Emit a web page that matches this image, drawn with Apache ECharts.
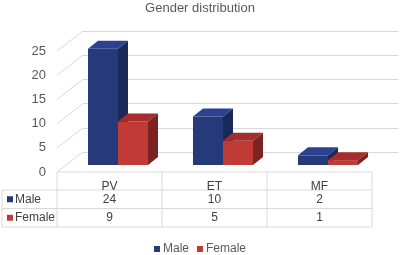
<!DOCTYPE html>
<html>
<head>
<meta charset="utf-8">
<script src="https://cdn.jsdelivr.net/npm/echarts@6/dist/echarts.min.js"></script>
<style>
  html, body { margin: 0; padding: 0; background: #fff; }
  #chart { width: 400px; height: 255px; }
</style>
</head>
<body>
<div id="chart"></div>
<script>
const categories = ['PV', 'ET', 'MF'];
const seriesNames = ['Male', 'Female'];
const maleValues = [24, 10, 2];
const femaleValues = [9, 5, 1];
const yTicks = [0, 5, 10, 15, 20, 25];

// colours: front, top, side
const faceColors = {
  Male: ['#263A7A', '#2C4190', '#1A285A'],
  Female: ['#C03A36', '#A52D2B', '#7C2220']
};

const FONT = 'Liberation Sans, Arial, sans-serif';
const TXT = '#595959';
const LINE = '#D9D9D9';

// plot geometry (front plane / back wall / bar plane)
const PLOT_LEFT = 57, PLOT_W = 315, PLOT_H = 121, FRONT_BASE = 172;
const WALL_DX = 26, WALL_DY = -20;
const BAR_SHIFT_X = 8.5, BAR_SHIFT_Y = -7;
const BAR_DX = 10, BAR_DY = -8;
const COL_W = PLOT_W / categories.length;

const chart = echarts.init(document.getElementById('chart'));

function barRender(seriesIdx) {
  const c = faceColors[seriesNames[seriesIdx]];
  return function (params, api) {
    const top = api.coord([api.value(0), api.value(1)]);
    const base = api.coord([api.value(0), 0]);
    const band = api.size([1, 0])[0];
    const w = band * 2 / 7;
    const x0 = top[0] - w + seriesIdx * w;
    const ty = top[1], by = base[1];
    return {
      type: 'group',
      children: [
        { type: 'rect', shape: { x: x0, y: ty, width: w, height: by - ty }, style: { fill: c[0] } },
        { type: 'polygon', shape: { points: [[x0, ty], [x0 + w, ty], [x0 + w + BAR_DX, ty + BAR_DY], [x0 + BAR_DX, ty + BAR_DY]] }, style: { fill: c[1] } },
        { type: 'polygon', shape: { points: [[x0 + w, ty], [x0 + w, by], [x0 + w + BAR_DX, by + BAR_DY], [x0 + w + BAR_DX, ty + BAR_DY]] }, style: { fill: c[2] } }
      ]
    };
  };
}

// data table
const ROW_H = 18.5;
const tableEls = [];
const tTop = FRONT_BASE, r1 = tTop + 18, r2 = r1 + ROW_H, r3 = r2 + ROW_H;
const right = PLOT_LEFT + PLOT_W;
[[PLOT_LEFT, tTop], [2, r1], [2, r2], [2, r3]].forEach(function (p) {
  tableEls.push({ type: 'line', shape: { x1: p[0], y1: p[1], x2: right, y2: p[1] }, style: { stroke: LINE, lineWidth: 1 } });
});
tableEls.push({ type: 'line', shape: { x1: 2, y1: r1, x2: 2, y2: r3 }, style: { stroke: LINE, lineWidth: 1 } });
for (let i = 0; i <= categories.length; i++) {
  const x = PLOT_LEFT + i * COL_W;
  tableEls.push({ type: 'line', shape: { x1: x, y1: tTop, x2: x, y2: r3 }, style: { stroke: LINE, lineWidth: 1 } });
}
const rows = [maleValues, femaleValues];
categories.forEach(function (cat, i) {
  const cx = PLOT_LEFT + (i + 0.5) * COL_W;
  tableEls.push({ type: 'text', x: cx, y: tTop + 14.5, style: { text: cat, fill: '#404040', font: '12px ' + FONT, align: 'center', verticalAlign: 'middle' } });
  rows.forEach(function (vals, r) {
    tableEls.push({ type: 'text', x: cx, y: r1 + ROW_H * (r + 0.5), style: { text: String(vals[i]), fill: '#404040', font: '12px ' + FONT, align: 'center', verticalAlign: 'middle' } });
  });
});
seriesNames.forEach(function (name, r) {
  const cy = r1 + ROW_H * (r + 0.5);
  tableEls.push({ type: 'rect', shape: { x: 7, y: cy - 3, width: 6, height: 6 }, style: { fill: faceColors[name][0] } });
  tableEls.push({ type: 'text', x: 15, y: cy, style: { text: name, fill: '#404040', font: '12px ' + FONT, align: 'left', verticalAlign: 'middle' } });
});

const hiddenX = { type: 'value', min: 0, max: categories.length, show: false };

chart.setOption({
  animation: false,
  title: {
    text: 'Gender distribution',
    left: 'center',
    top: -3,
    textStyle: { fontFamily: FONT, fontSize: 13, fontWeight: 'normal', color: TXT }
  },
  legend: {
    data: seriesNames,
    top: 238,
    left: 'center',
    icon: 'rect',
    itemWidth: 6,
    itemHeight: 6,
    itemGap: 8,
    textStyle: { fontFamily: FONT, fontSize: 12, color: TXT, padding: [0, 0, 0, -2] }
  },
  grid: [
    { left: PLOT_LEFT, top: FRONT_BASE - PLOT_H, width: PLOT_W, height: PLOT_H },
    { left: PLOT_LEFT + WALL_DX, top: FRONT_BASE - PLOT_H + WALL_DY, width: PLOT_W, height: PLOT_H },
    { left: PLOT_LEFT + BAR_SHIFT_X, top: FRONT_BASE - PLOT_H + BAR_SHIFT_Y, width: PLOT_W, height: PLOT_H }
  ],
  xAxis: [
    Object.assign({ gridIndex: 0 }, hiddenX),
    Object.assign({ gridIndex: 1 }, hiddenX),
    { gridIndex: 2, type: 'category', data: categories, show: false }
  ],
  yAxis: [
    {
      gridIndex: 0, type: 'value', min: 0, max: 25, interval: 5,
      axisLine: { show: false }, axisTick: { show: false }, splitLine: { show: false },
      axisLabel: { color: TXT, fontFamily: FONT, fontSize: 13, margin: 11 }
    },
    {
      gridIndex: 1, type: 'value', min: 0, max: 25, interval: 5,
      axisLine: { show: false }, axisTick: { show: false }, axisLabel: { show: false },
      splitLine: { lineStyle: { color: LINE, width: 1 } }
    },
    { gridIndex: 2, type: 'value', min: 0, max: 25, interval: 5, show: false, splitLine: { show: false } }
  ],
  series: [
    {
      type: 'custom',
      name: 'wall',
      xAxisIndex: 0, yAxisIndex: 0,
      silent: true,
      data: yTicks.map(function (v) { return [0, v]; }),
      renderItem: function (params, api) {
        const p = api.coord([0, api.value(1)]);
        return {
          type: 'line',
          shape: { x1: p[0], y1: p[1], x2: p[0] + WALL_DX, y2: p[1] + WALL_DY },
          style: { stroke: LINE, lineWidth: 1 }
        };
      }
    },
    {
      type: 'custom', name: seriesNames[0], xAxisIndex: 2, yAxisIndex: 2,
      itemStyle: { color: faceColors.Male[0] },
      data: maleValues.map(function (v, i) { return [i, v]; }),
      encode: { x: 0, y: 1 },
      renderItem: barRender(0)
    },
    {
      type: 'custom', name: seriesNames[1], xAxisIndex: 2, yAxisIndex: 2,
      itemStyle: { color: faceColors.Female[0] },
      data: femaleValues.map(function (v, i) { return [i, v]; }),
      encode: { x: 0, y: 1 },
      renderItem: barRender(1)
    }
  ],
  graphic: { elements: tableEls }
});
</script>
</body>
</html>
